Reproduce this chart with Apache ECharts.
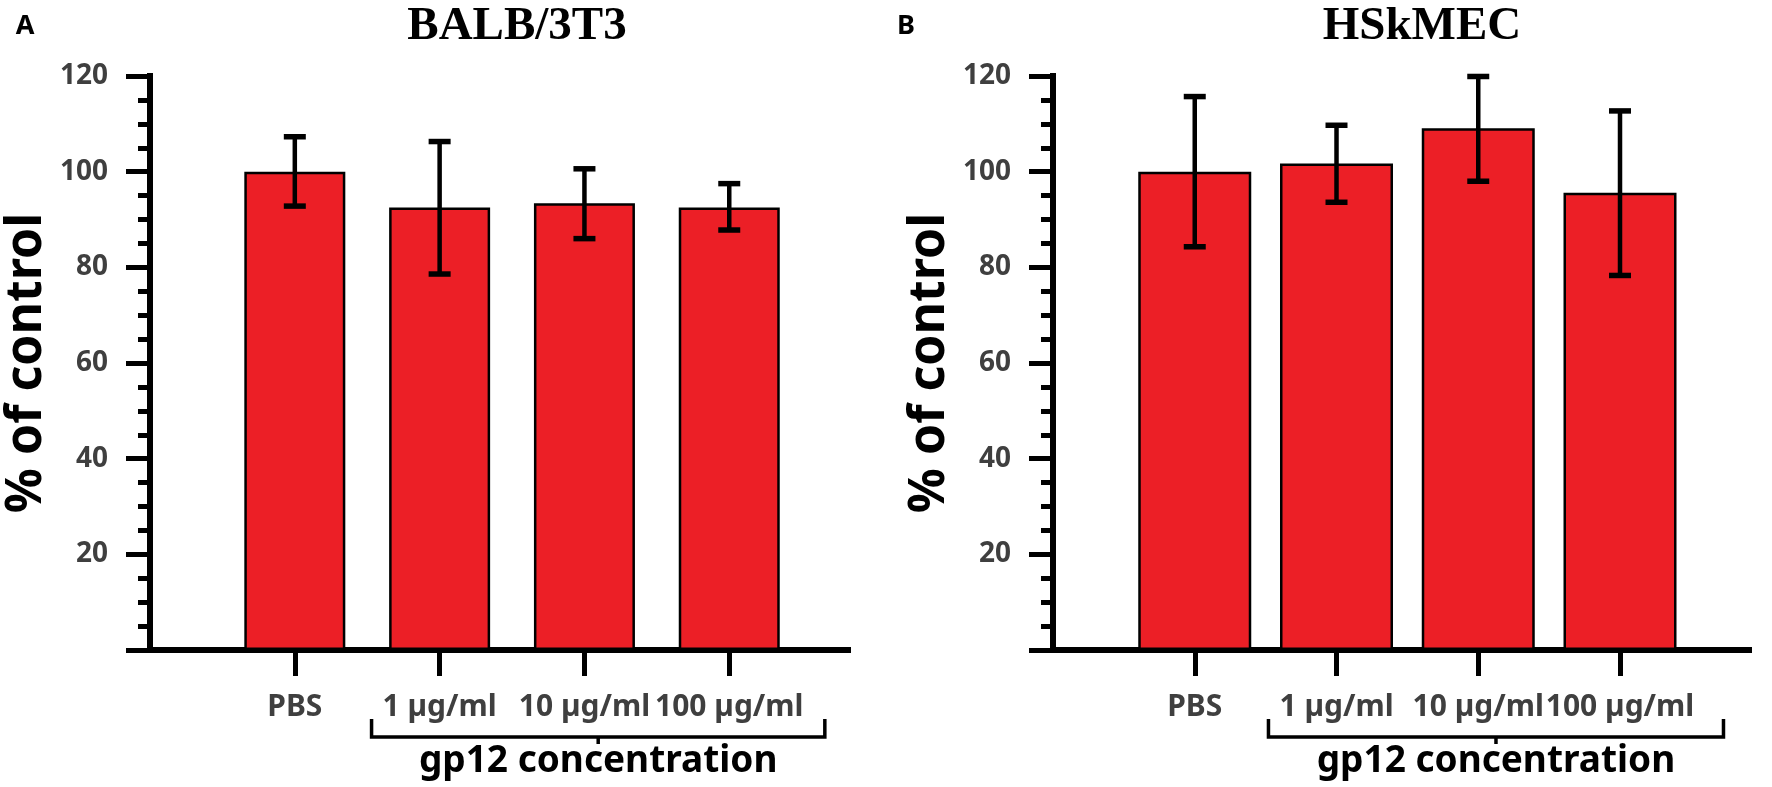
<!DOCTYPE html>
<html>
<head>
<meta charset="utf-8">
<script src="https://cdn.jsdelivr.net/npm/echarts@6/dist/echarts.min.js"></script>
<style>
  html, body { margin: 0; padding: 0; background: #fff; }
  #chart { width: 1772px; height: 787px; }
</style>
</head>
<body>
<div id="chart"></div>
<script>
const categories = ['PBS', '1 µg/ml', '10 µg/ml', '100 µg/ml'];

// panel A: BALB/3T3
const balbMean = [100, 92.5, 93.4, 92.5];
const balbLow = [92.8, 78.6, 86.0, 87.8];
const balbHigh = [107.3, 106.3, 100.6, 97.5];

// panel B: HSkMEC
const hskMean = [100, 101.7, 109.1, 95.6];
const hskLow = [84.3, 93.6, 98.0, 78.3];
const hskHigh = [115.7, 109.7, 119.9, 112.7];

const yTicks = [0, 20, 40, 60, 80, 100, 120];

const RED = '#ec1f26';
const LABEL_GREY = '#3f3f3f';
const SANS = '"Noto Sans", "Open Sans", sans-serif';

const chart = echarts.init(document.getElementById('chart'));

const catIdx = categories.map((c, i) => i);

function xAxisFor(gridIndex, max) {
  return {
    type: 'value',
    gridIndex,
    min: -1,
    max,
    interval: 1,
    splitLine: {show: false},
    axisLine: {show: true, onZero: false, lineStyle: {color: '#000', width: 6, cap: 'square'}},
    axisTick: {show: true, customValues: catIdx, length: 26, lineStyle: {color: '#000', width: 5}},
    axisLabel: {
      show: true,
      customValues: catIdx,
      margin: 42,
      color: LABEL_GREY,
      fontFamily: SANS,
      fontWeight: 'bold',
      fontSize: 30,
      formatter: v => categories[Math.round(v)] || ''
    }
  };
}

function yAxisFor(gridIndex) {
  return {
    type: 'value',
    gridIndex,
    min: yTicks[0],
    max: yTicks[yTicks.length - 1],
    interval: 20,
    name: '% of control',
    nameLocation: 'middle',
    nameGap: 98,
    nameRotate: 90,
    nameTextStyle: {color: '#000', fontFamily: SANS, fontWeight: 'bold', fontSize: 50},
    splitLine: {show: false},
    axisLine: {show: true, onZero: false, lineStyle: {color: '#000', width: 6, cap: 'square'}},
    axisTick: {show: true, length: 24, lineStyle: {color: '#000', width: 5}},
    minorTick: {show: true, splitNumber: 4, length: 12, lineStyle: {color: '#000', width: 5}},
    axisLabel: {
      margin: 42,
      color: LABEL_GREY,
      fontFamily: SANS,
      fontWeight: 'bold',
      fontSize: 28,
      showMinLabel: false
    }
  };
}

function errorSeries(idx, low, high) {
  return {
    type: 'custom',
    xAxisIndex: idx,
    yAxisIndex: idx,
    z: 5,
    data: low.map((l, i) => [i, l, high[i]]),
    renderItem: (params, api) => {
      const x = api.value(0);
      const lo = api.coord([x, api.value(1)]);
      const hi = api.coord([x, api.value(2)]);
      const hw = 11;
      const st = {stroke: '#000', lineWidth: 4.5};
      return {
        type: 'group',
        children: [
          {type: 'line', shape: {x1: lo[0], y1: lo[1], x2: hi[0], y2: hi[1]}, style: st},
          {type: 'line', shape: {x1: hi[0] - hw, y1: hi[1], x2: hi[0] + hw, y2: hi[1]}, style: {stroke: '#000', lineWidth: 5.5}},
          {type: 'line', shape: {x1: lo[0] - hw, y1: lo[1], x2: lo[0] + hw, y2: lo[1]}, style: {stroke: '#000', lineWidth: 5.5}}
        ]
      };
    }
  };
}

function barSeries(idx, values, width) {
  return {
    type: 'bar',
    xAxisIndex: idx,
    yAxisIndex: idx,
    barWidth: width,
    data: values.map((v, i) => [i, v]),
    itemStyle: {color: RED, borderColor: '#000', borderWidth: 2.5},
    silent: true
  };
}

const option = {
  animation: false,
  backgroundColor: '#fff',
  grid: [
    {left: 150, right: 924, top: 76, bottom: 137},
    {left: 1053, right: 23, top: 76, bottom: 137}
  ],
  xAxis: [xAxisFor(0, 3.82), xAxisFor(1, 3.91)],
  yAxis: [yAxisFor(0), yAxisFor(1)],
  series: [
    barSeries(0, balbMean, 101),
    errorSeries(0, balbLow, balbHigh),
    barSeries(1, hskMean, 113),
    errorSeries(1, hskLow, hskHigh)
  ]
};

chart.setOption(option);

// brackets under the gp12 groups and the panel titles
function bracket(gridIndex, fromX, toX) {
  const a = chart.convertToPixel({gridIndex}, [fromX, 0]);
  const b = chart.convertToPixel({gridIndex}, [toX, 0]);
  const yLine = a[1] + 87;
  const yTop = a[1] + 69;
  const mid = (a[0] + b[0]) / 2;
  const st = {stroke: '#000', lineWidth: 3.5, fill: null};
  return [
    {type: 'polyline', shape: {points: [[a[0], yTop], [a[0], yLine], [b[0], yLine], [b[0], yTop]]}, style: st},
    {type: 'line', shape: {x1: mid, y1: yLine, x2: mid, y2: yLine + 7}, style: st},
    {
      type: 'text', x: mid, y: yLine + 24,
      style: {text: 'gp12 concentration', align: 'center', verticalAlign: 'middle',
        fill: '#000', font: 'bold 37px ' + SANS}
    }
  ];
}

function titleText(x, text) {
  return {
    type: 'text', x, y: 27,
    style: {text, align: 'center', verticalAlign: 'middle', fill: '#000',
      font: 'bold 47px "Liberation Serif", "Times New Roman", serif'}
  };
}

function panelLetter(x, text) {
  return {
    type: 'text', x, y: 26,
    style: {text, align: 'center', verticalAlign: 'middle', fill: '#000', font: 'bold 27px ' + SANS}
  };
}

chart.setOption({
  graphic: [
    panelLetter(25, 'A'),
    panelLetter(906, 'B'),
    titleText(517, 'BALB/3T3'),
    titleText(1422, 'HSkMEC'),
    ...bracket(0, 0.53, 3.66),
    ...bracket(1, 0.52, 3.73)
  ]
});
</script>
</body>
</html>
